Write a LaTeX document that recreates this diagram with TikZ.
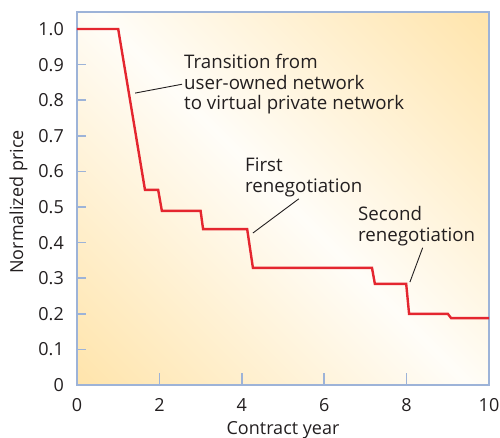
\documentclass[tikz,border=0pt]{standalone}
\usepackage{fontspec}
\setmainfont{Open Sans}
\usetikzlibrary{positioning}
\definecolor{FrameBlue}{HTML}{9DB3D8}
\definecolor{PriceRed}{HTML}{E4262F}
\definecolor{WarmYellow}{HTML}{FFDA8C}
\definecolor{PaleCream}{HTML}{FFFDF8}
\definecolor{InkText}{HTML}{231F20}
\pgfdeclareverticalshading{warmband}{100bp}{color(0bp)=(WarmYellow); color(50bp)=(PaleCream); color(100bp)=(WarmYellow)}

\begin{document}
\begin{tikzpicture}[x=41.2pt,y=356pt,font=\fontsize{18}{20.5}\selectfont,text=InkText]
    \useasboundingbox (-77pt,-52pt) rectangle (423pt,385pt);

    % background and frame
    \shade[shading=warmband,shading angle=-45] (0,0) rectangle (10,1.048);
    \draw[FrameBlue,line width=2pt] (0,0) rectangle (10,1.048);

    % ticks and tick labels
    \foreach \t [count=\i from 0] in {0,0.1,0.2,0.3,0.4,0.5,0.6,0.7,0.8,0.9,1.0} {
      \draw[FrameBlue,line width=1.6pt] (0,\t) -- ++(9pt,0);
      \node[anchor=east,inner sep=2pt] (ylab\i) at ([xshift=-11pt]0,\t) {\t};
    }
    \foreach \t in {2,4,6,8}
      \draw[FrameBlue,line width=1.6pt] (\t,0) -- ++(0,12pt);
    \foreach \t in {0,2,...,10}
      \node[anchor=base,inner sep=0pt] (xlab\t) at ([yshift=-26pt]\t,0) {\t};

    % axis titles
    \node[anchor=base,inner sep=0pt] (xtitle) at ([yshift=-49pt]5,0) {Contract year};
    \node[anchor=base,inner sep=0pt,rotate=90] (ytitle) at ([xshift=-54pt]0,0.514) {Normalized price};

    % price curve
    \draw[PriceRed,line width=2.4pt] plot coordinates {
      (0,1.0) (1.0,1.0) (1.65,0.548) (1.97,0.548) (2.06,0.489) (3.0,0.489)
      (3.06,0.438) (4.13,0.438) (4.27,0.329) (7.16,0.329) (7.23,0.284)
      (7.99,0.284) (8.06,0.2) (9.0,0.2) (9.08,0.188) (10,0.188)};

    \coordinate (drop) at (1.41,0.82);
    \coordinate (firstcut) at (4.27,0.427);
    \coordinate (secondcut) at (8.08,0.289);

    % annotations
    \tikzset{note/.style={anchor=north west,align=left,inner sep=2pt,font=\fontsize{18.7}{20.5}\selectfont}}
    \node[note] (transition) at (2.549,0.935)
      {Transition from\\user-owned network\\to virtual private network};
    \node[note] (first) at (4.03,0.644)
      {First\\renegotiation};
    \node[note] (second) at (6.77,0.508)
      {Second\\renegotiation};

    \draw[InkText,line width=0.9pt] (transition.west) -- (drop);
    \draw[InkText,line width=0.9pt] ([xshift=-5pt]first.south) -- (firstcut);
    \draw[InkText,line width=0.9pt] ([xshift=6pt]second.south) -- (secondcut);
\end{tikzpicture}
\end{document}
